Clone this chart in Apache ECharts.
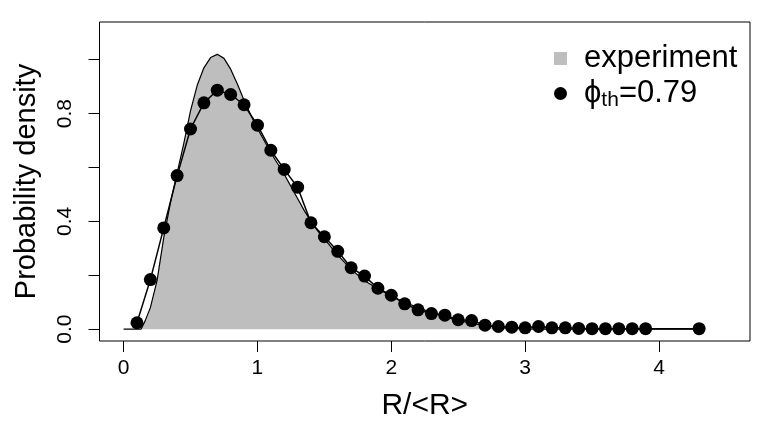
<!DOCTYPE html>
<html>
<head>
<meta charset="utf-8">
<script src="https://cdn.jsdelivr.net/npm/echarts@6/dist/echarts.min.js"></script>
<style>
  html, body { margin: 0; padding: 0; background: #fff; }
  #chart { width: 772px; height: 441px; }
</style>
</head>
<body>
<div id="chart"></div>
<script>
// experiment density curve (grey area)
const curveX = [0, 0.1, 0.13, 0.16, 0.2, 0.25, 0.3, 0.35, 0.4, 0.45, 0.5, 0.55, 0.6, 0.65, 0.7, 0.75,
  0.8, 0.85, 0.9, 0.95, 1.0, 1.05, 1.1, 1.15, 1.2, 1.25, 1.3, 1.35, 1.4, 1.45, 1.5, 1.6, 1.7, 1.8,
  1.9, 2.0, 2.1, 2.2, 2.3, 2.4, 2.5, 2.6, 2.7, 2.8, 2.9, 3.0, 3.1, 4.3];
const curveY = [0, 0, 0, 0.03, 0.08, 0.18, 0.34, 0.47, 0.58, 0.69, 0.81, 0.905, 0.97, 1.008, 1.02, 1.005,
  0.965, 0.91, 0.85, 0.795, 0.745, 0.70, 0.655, 0.615, 0.575, 0.53, 0.485, 0.44, 0.40, 0.365, 0.335, 0.275, 0.222, 0.18,
  0.15, 0.122, 0.10, 0.08, 0.062, 0.046, 0.033, 0.022, 0.013, 0.007, 0.003, 0.001, 0, 0];

// theory points, phi_th = 0.79
const dotX = [0.1, 0.2, 0.3, 0.4, 0.5, 0.6, 0.7, 0.8, 0.9, 1.0, 1.1, 1.2, 1.3, 1.4, 1.5, 1.6, 1.7, 1.8, 1.9, 2.0,
  2.1, 2.2, 2.3, 2.4, 2.5, 2.6, 2.7, 2.8, 2.9, 3.0, 3.1, 3.2, 3.3, 3.4, 3.5, 3.6, 3.7, 3.8, 3.9, 4.3];
const dotY = [0.024, 0.184, 0.376, 0.57, 0.743, 0.84, 0.887, 0.871, 0.833, 0.757, 0.664, 0.593, 0.527, 0.395, 0.343,
  0.289, 0.228, 0.197, 0.152, 0.126, 0.094, 0.072, 0.058, 0.052, 0.035, 0.032, 0.015, 0.01, 0.0075, 0.005,
  0.01, 0.005, 0.005, 0.003, 0.002, 0.002, 0.002, 0.002, 0.002, 0.002];

const xTicks = [0, 1, 2, 3, 4];
const yTicks = [0, 0.2, 0.4, 0.6, 0.8, 1.0];
const yLabels = [0, 0.4, 0.8];

const FONT = '"Liberation Sans", Arial, Helvetica, sans-serif';
const expName = 'experiment';
const thName = 'ϕth=0.79';

const chart = echarts.init(document.getElementById('chart'), null, { renderer: 'canvas' });

chart.setOption({
  backgroundColor: '#ffffff',
  animation: false,
  textStyle: { fontFamily: FONT, color: '#000' },
  grid: {
    left: 99.5, right: 22, top: 22, bottom: 100,
    show: true, borderColor: '#000', borderWidth: 1, backgroundColor: 'transparent'
  },
  legend: {
    orient: 'vertical',
    left: 549, top: 38,
    itemWidth: 13, itemHeight: 13,
    itemGap: 4,
    data: [
      { name: expName, icon: 'rect', itemStyle: { color: '#bebebe' } },
      { name: thName, icon: 'circle', itemStyle: { color: '#000' } }
    ],
    textStyle: {
      fontFamily: FONT, fontSize: 31, color: '#000', padding: [0, 0, 0, 12],
      rich: {
        a: { fontFamily: FONT, fontSize: 31, color: '#000', lineHeight: 35 },
        s: { fontFamily: FONT, fontSize: 21, color: '#000', lineHeight: 35, verticalAlign: 'bottom', padding: [11, 0, 0, 0] }
      }
    },
    formatter: function (name) {
      if (name === thName) return '{a|ϕ}{s|th}{a|=0.79}';
      return '{a|' + name + '}';
    }
  },
  xAxis: {
    type: 'value',
    min: -0.18, max: 4.68,
    name: 'R/<R>',
    nameLocation: 'middle',
    nameGap: 50,
    nameTextStyle: { fontFamily: FONT, fontSize: 30, color: '#000' },
    axisLine: { show: false, onZero: false },
    splitLine: { show: false },
    axisTick: { show: true, length: 11, customValues: xTicks, lineStyle: { color: '#000', width: 1 } },
    axisLabel: { customValues: xTicks, margin: 17, fontFamily: FONT, fontSize: 21, color: '#000' }
  },
  yAxis: {
    type: 'value',
    min: -0.0438, max: 1.14,
    name: 'Probability density',
    nameLocation: 'middle',
    nameRotate: 90,
    nameGap: 58,
    nameTextStyle: { fontFamily: FONT, fontSize: 29, color: '#000' },
    axisLine: { show: false, onZero: false },
    splitLine: { show: false },
    axisTick: { show: true, length: 11, customValues: yTicks, lineStyle: { color: '#000', width: 1 } },
    axisLabel: {
      customValues: yLabels, rotate: 90, margin: 24,
      fontFamily: FONT, fontSize: 21, color: '#000',
      formatter: function (v) { return v.toFixed(1); }
    }
  },
  series: [
    {
      name: expName,
      type: 'line',
      data: curveX.map((x, i) => [x, curveY[i]]),
      showSymbol: false,
      symbol: 'none',
      lineStyle: { color: '#000', width: 1.2 },
      itemStyle: { color: '#bebebe' },
      areaStyle: { color: '#bebebe', opacity: 1 },
      z: 2
    },
    {
      name: thName,
      type: 'line',
      data: dotX.map((x, i) => [x, dotY[i]]),
      symbol: 'circle',
      symbolSize: 13,
      showSymbol: true,
      lineStyle: { color: '#000', width: 1.5 },
      itemStyle: { color: '#000' },
      z: 3
    }
  ]
});

window.addEventListener('resize', () => chart.resize());
</script>
</body>
</html>
